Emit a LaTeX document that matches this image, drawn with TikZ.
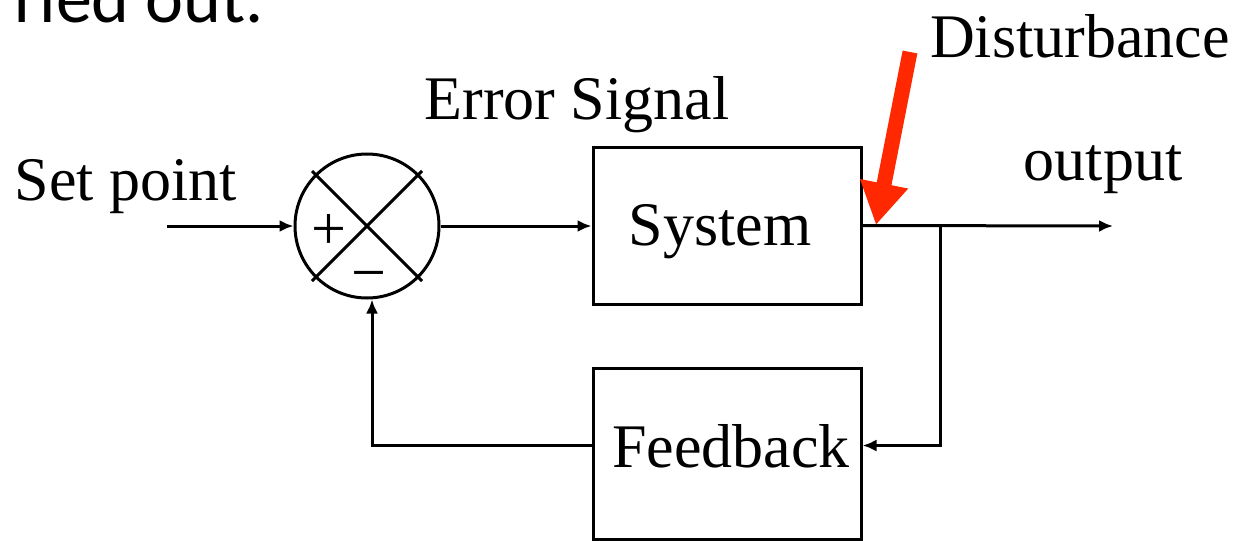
\documentclass[tikz,border=0pt]{standalone}
\usepackage{fontspec}
\setmainfont{Liberation Serif}
\newfontfamily\slidefont{Carlito}
\usetikzlibrary{arrows.meta,calc}
\definecolor{distred}{RGB}{255,40,0}
\tikzset{
  lbl/.style = {inner sep=0pt, font=\fontsize{31}{36}\selectfont},% plain text label
  blk/.style = {draw=black, line width=1.5pt, minimum width=134pt,
    inner sep=0pt, font=\fontsize{31}{36}\selectfont},% block of the loop
  sum_n/.style = {draw=black, circle, line width=1.5pt,
    minimum size=72pt, inner sep=0pt},% summing junction
  sig/.style = {line width=1.5pt, -{Latex[length=7pt,width=6pt]}},% signal line
  dist/.style = {distred, line width=7.5pt,
    -{Triangle[length=21pt,width=23pt]}}% disturbance arrow
}
\begin{document}
\begin{tikzpicture}[x=0.5pt,y=-0.5pt]
  \useasboundingbox (0,0) rectangle (1238,541);
  \clip (0,0) rectangle (1238,541);
  \node [anchor=base west, inner sep=0pt,
    font=\slidefont\fontsize{36}{40}\selectfont] (title) at (14,22) {ried out.};
  % loop
  \node [sum_n] (sum) at (367,226) {};
  \draw [line width=1.5pt] ($(sum)+(-55,-55)$) -- ($(sum)+(55,55)$);
  \draw [line width=1.5pt] ($(sum)+(-55,55)$) -- ($(sum)+(55,-55)$);
  \node [lbl] (plus) at (329,232) {+};
  \node [lbl] (minus) at (369,282) {−};
  \node [blk, minimum height=78.5pt, text height=27pt] (sys) at (727,225.5) {\hspace*{-7pt}System};
  \node [blk, minimum height=85.5pt, text depth=8pt] (fb) at (727,453.5) {\hspace*{4pt}Feedback};
  % labels
  \node [lbl, anchor=base] (setp) at (126,200) {Set point};
  \node [lbl, anchor=base] (err) at (577,119) {Error Signal};
  \node [lbl, anchor=base] (outl) at (1103,180) {output};
  \node [lbl, anchor=base] (distl) at (1080,57) {Disturbance};
  % connectors
  \coordinate (sp) at (167,226);
  \coordinate (out) at (1113,226);
  \coordinate (br) at (940,226);
  \coordinate (dtail) at (910,52);
  \coordinate (dtip) at (876,225);
  \draw [sig] (sp) -- (sum.west);
  \draw [sig] (sum.east) -- (sum.east -| sys.west);
  \draw [sig] (sys.east) -- (out);
  \draw [sig] (br) |- ([yshift=4pt]fb.east);
  \draw [sig] ([yshift=4pt]fb.west) -| ([xshift=2.5pt]sum.south);
  \draw [dist] (dtail) -- (dtip);
\end{tikzpicture}
\end{document}
